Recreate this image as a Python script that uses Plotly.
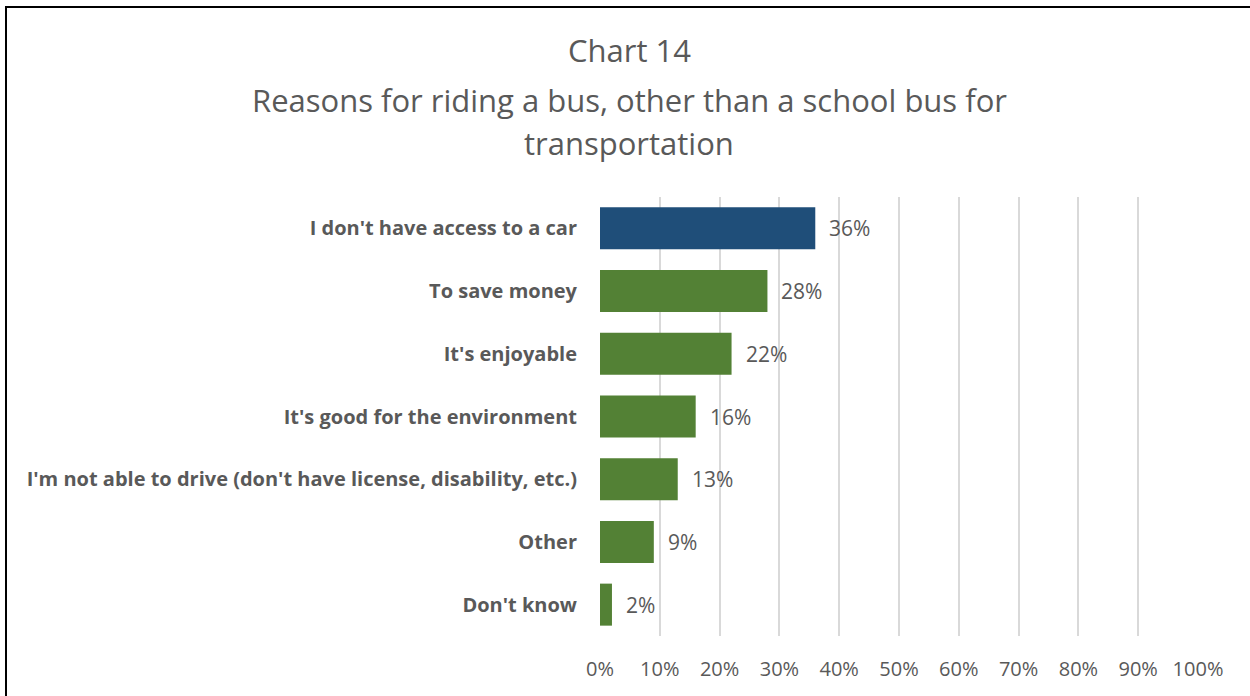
import plotly.graph_objects as go

# Survey results: share of respondents selecting each reason
categories = [
    "I don't have access to a car",
    "To save money",
    "It's enjoyable",
    "It's good for the environment",
    "I'm not able to drive (don't have license, disability, etc.)",
    "Other",
    "Don't know",
]
shares = [0.36, 0.28, 0.22, 0.16, 0.13, 0.09, 0.02]
bar_colors = ["#1F4E79", "#538135", "#538135", "#538135", "#538135", "#538135", "#538135"]
x_ticks = [0, 0.1, 0.2, 0.3, 0.4, 0.5, 0.6, 0.7, 0.8, 0.9, 1.0]
title_lines = [
    "Chart 14",
    "Reasons for riding a bus, other than a school bus for",
    "transportation",
]

W, H = 1250, 696
PLOT_L, PLOT_R, PLOT_T, PLOT_B = 600, 1198, 197, 636
GREY = "#595959"
FONT = "Open Sans"


def paper_x(px):
    return (px - PLOT_L) / (PLOT_R - PLOT_L)


def paper_y(py):
    return (PLOT_B - py) / (PLOT_B - PLOT_T)


fig = go.Figure(
    go.Bar(
        x=shares,
        y=categories,
        orientation="h",
        marker=dict(color=bar_colors, line=dict(width=0)),
        width=0.67,
        hoverinfo="skip",
    )
)

# Value labels to the right of each bar
for cat, v in zip(categories, shares):
    fig.add_annotation(
        x=v, y=cat, xref="x", yref="y",
        text=f"{v:.0%}", showarrow=False,
        xanchor="left", yanchor="middle", xshift=12,
        font=dict(family=FONT, size=21, color=GREY),
    )

# Three-line centred title
for text, py in zip(title_lines, [50, 100, 143]):
    fig.add_annotation(
        x=paper_x(629), y=paper_y(py), xref="paper", yref="paper",
        text=text, showarrow=False, xanchor="center", yanchor="middle",
        font=dict(family=FONT, size=31, color=GREY),
    )

# Chart frame (left and top edges)
fig.add_shape(type="line", xref="paper", yref="paper",
              x0=paper_x(6), x1=paper_x(6), y0=paper_y(6), y1=paper_y(H + 10),
              line=dict(color="black", width=2))
fig.add_shape(type="line", xref="paper", yref="paper",
              x0=paper_x(5), x1=paper_x(W + 10), y0=paper_y(7), y1=paper_y(7),
              line=dict(color="black", width=2))

fig.update_layout(
    width=W, height=H,
    margin=dict(l=PLOT_L, r=W - PLOT_R, t=PLOT_T, b=H - PLOT_B, pad=0),
    paper_bgcolor="white", plot_bgcolor="white",
    showlegend=False,
    font=dict(family=FONT, color=GREY),
    xaxis=dict(
        range=[0, 1.0], tickvals=x_ticks, tickformat=".0%",
        showgrid=True, gridcolor="#D9D9D9", gridwidth=2,
        zeroline=False, showline=False, ticks="",
        tickfont=dict(family=FONT, size=20, color=GREY),
        ticklabelstandoff=19, fixedrange=True,
    ),
    yaxis=dict(
        autorange="reversed", showgrid=False, zeroline=False, showline=False,
        ticks="", ticklabelstandoff=22,
        tickfont=dict(family=FONT, size=20, color=GREY, weight="bold"),
        fixedrange=True,
    ),
    bargap=0.33,
)

fig.write_html("out.html")
